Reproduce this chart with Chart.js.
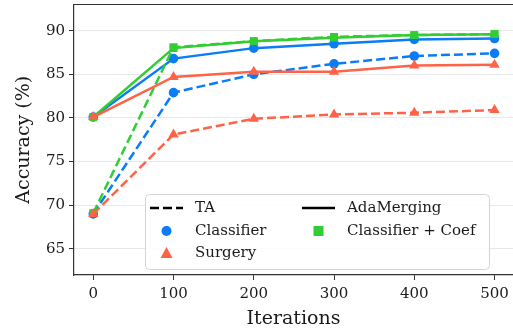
<!DOCTYPE html>
<html>
<head>
<meta charset="utf-8">
<script src="https://cdn.jsdelivr.net/npm/chart.js@4/dist/chart.umd.min.js"></script>
<style>
  html, body { margin: 0; padding: 0; background: #fff; }
  #wrap { width: 513px; height: 332px; }
</style>
</head>
<body>
<div id="wrap"><canvas id="chart"></canvas></div>
<script>
// data
const iterations = [0, 100, 200, 300, 400, 500];
const taClassifier = [69.0, 82.9, 85.0, 86.2, 87.1, 87.4];
const taSurgery = [69.0, 78.1, 79.9, 80.4, 80.6, 80.9];
const taCoef = [69.1, 88.1, 88.8, 89.3, 89.5, 89.6];
const adaClassifier = [80.1, 86.8, 88.0, 88.5, 89.0, 89.1];
const adaSurgery = [80.1, 84.7, 85.3, 85.3, 86.0, 86.1];
const adaCoef = [80.1, 88.0, 88.8, 89.2, 89.5, 89.6];
const yTicks = [65, 70, 75, 80, 85, 90];
const xTicks = [0, 100, 200, 300, 400, 500];

const BLUE = '#0a7cf6', RED = '#ff6347', GREEN = '#32cd32';
const FONT = "'DejaVu Serif', serif";
const DASH = [9, 4];

function series(label, values, color, style, dashed, order){
  return {
    label,
    data: values.map((v, i) => ({ x: iterations[i], y: v })),
    borderColor: color,
    backgroundColor: color,
    borderWidth: 2.5,
    borderDash: dashed ? DASH : [],
    pointStyle: style,
    pointRadius: style === 'triangle' ? 6 : (style === 'rect' ? 5.5 : 4.8),
    pointBorderWidth: 0,
    tension: 0,
    order
  };
}

// legend drawn by hand: line style in one group, method marker in the other
const legendPlugin = {
  id: 'customLegend',
  afterDraw(chart){
    const ctx = chart.ctx;
    const x0 = 145, y0 = 194, w = 344, h = 75, r = 4;
    ctx.save();
    ctx.beginPath();
    ctx.roundRect(x0 + 0.5, y0 + 0.5, w, h, r);
    ctx.fillStyle = 'rgba(255,255,255,0.85)';
    ctx.fill();
    ctx.strokeStyle = '#d4d4d4';
    ctx.lineWidth = 1;
    ctx.stroke();

    ctx.font = '15px ' + FONT;
    ctx.textBaseline = 'middle';
    ctx.fillStyle = '#1a1a1a';
    const rows = [208, 231, 253];
    const cols = [{ h: 150, t: 195 }, { h: 302, t: 347 }];

    // TA dashed, AdaMerging solid
    ctx.strokeStyle = '#000';
    ctx.lineWidth = 2.5;
    ctx.setLineDash(DASH);
    ctx.beginPath(); ctx.moveTo(cols[0].h, rows[0]); ctx.lineTo(cols[0].h + 33, rows[0]); ctx.stroke();
    ctx.setLineDash([]);
    ctx.beginPath(); ctx.moveTo(cols[1].h, rows[0]); ctx.lineTo(cols[1].h + 33, rows[0]); ctx.stroke();
    ctx.fillText('TA', cols[0].t, rows[0]);
    ctx.fillText('AdaMerging', cols[1].t, rows[0]);

    // markers
    const mx0 = cols[0].h + 16.5, mx1 = cols[1].h + 16.5;
    ctx.fillStyle = BLUE;
    ctx.beginPath(); ctx.arc(mx0, rows[1], 5, 0, Math.PI * 2); ctx.fill();
    ctx.fillStyle = GREEN;
    ctx.fillRect(mx1 - 5, rows[1] - 5, 10, 10);
    ctx.fillStyle = RED;
    ctx.beginPath();
    ctx.moveTo(mx0, rows[2] - 6); ctx.lineTo(mx0 + 6, rows[2] + 5); ctx.lineTo(mx0 - 6, rows[2] + 5);
    ctx.closePath(); ctx.fill();

    ctx.fillStyle = '#1a1a1a';
    ctx.fillText('Classifier', cols[0].t, rows[1]);
    ctx.fillText('Classifier + Coef', cols[1].t, rows[1]);
    ctx.fillText('Surgery', cols[0].t, rows[2]);
    ctx.restore();
  }
};

// top spine
const frame = {
  id: 'frame',
  afterDatasetsDraw(chart){
    const { ctx, chartArea: a } = chart;
    ctx.save();
    ctx.strokeStyle = '#333';
    ctx.lineWidth = 1.2;
    ctx.beginPath(); ctx.moveTo(a.left, a.top); ctx.lineTo(a.right + 5, a.top); ctx.stroke();
    ctx.restore();
  }
};

new Chart(document.getElementById('chart'), {
  type: 'line',
  data: {
    datasets: [
      series('TA Classifier', taClassifier, BLUE, 'circle', true, 5),
      series('AdaMerging Classifier', adaClassifier, BLUE, 'circle', false, 4),
      series('TA Classifier + Coef', taCoef, GREEN, 'rect', true, 3),
      series('AdaMerging Classifier + Coef', adaCoef, GREEN, 'rect', false, 2),
      series('TA Surgery', taSurgery, RED, 'triangle', true, 1),
      series('AdaMerging Surgery', adaSurgery, RED, 'triangle', false, 0)
    ]
  },
  options: {
    responsive: true,
    maintainAspectRatio: false,
    animation: false,
    layout: { autoPadding: false, padding: { top: 4.5, left: 0, right: 0, bottom: 0 } },
    plugins: { legend: { display: false }, tooltip: { enabled: false } },
    scales: {
      x: {
        type: 'linear',
        min: -24, max: 523,
        afterBuildTicks: s => { s.ticks = xTicks.map(v => ({ value: v })); },
        afterFit: s => { s.height = 57; s.paddingLeft = 0; s.paddingRight = 0; },
        grid: { drawOnChartArea: false, tickLength: 5, tickColor: '#333', lineWidth: 1 },
        border: { color: '#333', width: 1.2 },
        ticks: { color: '#1a1a1a', font: { family: FONT, size: 15 }, padding: 5, maxRotation: 0 },
        title: { display: true, text: 'Iterations', color: '#1a1a1a', font: { family: FONT, size: 19 }, padding: { top: 2, bottom: 2 } }
      },
      y: {
        min: 62, max: 93,
        afterBuildTicks: s => { s.ticks = yTicks.map(v => ({ value: v })); },
        afterFit: s => { s.width = 74; s.paddingTop = 0; s.paddingBottom = 0; },
        grid: { color: '#e8e8e8', tickLength: 5, tickColor: '#333', lineWidth: 1 },
        border: { color: '#333', width: 1.2 },
        ticks: { color: '#1a1a1a', font: { family: FONT, size: 15 }, padding: 4 },
        title: { display: true, text: 'Accuracy (%)', color: '#1a1a1a', font: { family: FONT, size: 19 }, padding: { top: 13, bottom: 4 } }
      }
    }
  },
  plugins: [frame, legendPlugin]
});
</script>
</body>
</html>
